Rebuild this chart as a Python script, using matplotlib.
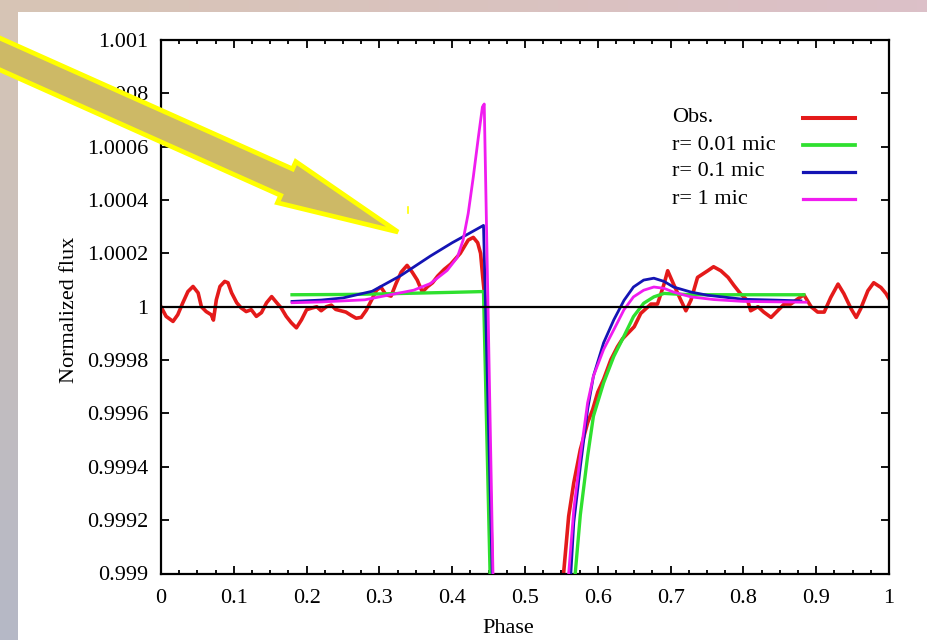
import numpy as np
import matplotlib
matplotlib.use("Agg")
import matplotlib.pyplot as plt
from matplotlib.patches import Polygon, Rectangle
from matplotlib.ticker import MultipleLocator, FixedLocator

# -------------------------------------------------------
# Data (flux deviation in units of 1e-4, flux = 1 + d*1e-4)
# -------------------------------------------------------

obs_phase = [0.000, 0.007, 0.0165, 0.023, 0.030, 0.037, 0.044, 0.051, 0.0555, 0.062,
             0.069, 0.072, 0.076, 0.081, 0.0875, 0.092, 0.097, 0.104, 0.110, 0.117,
             0.124, 0.131, 0.138, 0.145, 0.152, 0.159, 0.165, 0.172, 0.179, 0.186,
             0.193, 0.200, 0.207, 0.214, 0.220, 0.227, 0.234, 0.240, 0.247, 0.254,
             0.261, 0.268, 0.275, 0.282, 0.289, 0.296, 0.302, 0.309, 0.316, 0.323,
             0.330, 0.338, 0.345, 0.352, 0.359, 0.366, 0.373, 0.380, 0.389, 0.398,
             0.411, 0.422, 0.429, 0.435, 0.439, 0.442, 0.446, 0.455, 0.500, 0.553,
             0.560, 0.567, 0.576, 0.586, 0.593, 0.600, 0.608, 0.618, 0.627, 0.634,
             0.650, 0.659, 0.673, 0.682, 0.691, 0.696, 0.704, 0.714, 0.721, 0.728,
             0.737, 0.751, 0.759, 0.769, 0.779, 0.787, 0.796, 0.806, 0.810, 0.820,
             0.828, 0.838, 0.847, 0.856, 0.865, 0.875, 0.883, 0.893, 0.902, 0.911,
             0.920, 0.930, 0.938, 0.948, 0.955, 0.961, 0.971, 0.979, 0.989, 0.996,
             1.000]
obs_dev = [0.00, -0.36, -0.55, -0.30, 0.15, 0.57, 0.76, 0.52, 0.00, -0.18,
           -0.30, -0.50, 0.26, 0.76, 0.95, 0.90, 0.52, 0.15, -0.04, -0.18,
           -0.11, -0.36, -0.22, 0.15, 0.38, 0.15, -0.04, -0.36, -0.60, -0.79,
           -0.49, -0.11, -0.05, 0.00, -0.15, 0.00, 0.06, -0.10, -0.15, -0.20,
           -0.32, -0.43, -0.40, -0.13, 0.24, 0.62, 0.74, 0.45, 0.40, 0.88,
           1.30, 1.55, 1.30, 1.00, 0.55, 0.75, 0.90, 1.15, 1.40, 1.60,
           2.00, 2.50, 2.60, 2.40, 2.00, 1.10, 0.00, -10.0, -20.0, -10.0,
           -7.85, -6.60, -5.35, -4.35, -3.85, -3.20, -2.72, -1.98, -1.50, -1.20,
           -0.75, -0.25, 0.10, 0.10, 0.85, 1.35, 0.85, 0.25, -0.15, 0.25,
           1.10, 1.35, 1.50, 1.35, 1.10, 0.80, 0.49, 0.22, -0.15, 0.00,
           -0.20, -0.40, -0.15, 0.10, 0.10, 0.30, 0.45, 0.00, -0.20, -0.20,
           0.35, 0.85, 0.49, -0.08, -0.40, -0.08, 0.60, 0.90, 0.72, 0.49,
           0.30]

g_phase = [0.180, 0.250, 0.300, 0.350, 0.400, 0.443, 0.452, 0.500, 0.569, 0.576,
           0.586, 0.594, 0.608, 0.622, 0.636, 0.649, 0.663, 0.677, 0.691, 0.704,
           0.728, 0.800, 0.883]
g_dev = [0.45, 0.46, 0.48, 0.51, 0.54, 0.57, -10.0, -20.0, -10.0, -7.8,
         -5.6, -4.1, -2.85, -1.86, -1.1, -0.37, 0.13, 0.37, 0.50, 0.48,
         0.45, 0.45, 0.45]

b_phase = [0.180, 0.220, 0.250, 0.290, 0.330, 0.370, 0.400, 0.420, 0.443, 0.455,
           0.500, 0.563, 0.567, 0.576, 0.586, 0.594, 0.608, 0.622, 0.636, 0.649,
           0.663, 0.677, 0.691, 0.704, 0.728, 0.751, 0.800, 0.842, 0.879]
b_dev = [0.20, 0.25, 0.33, 0.58, 1.18, 1.90, 2.40, 2.70, 3.05, -10.0,
         -20.0, -10.0, -8.1, -6.0, -3.85, -2.6, -1.35, -0.49, 0.24, 0.74,
         1.00, 1.07, 0.95, 0.74, 0.55, 0.43, 0.28, 0.25, 0.22]

m_phase = [0.180, 0.220, 0.280, 0.300, 0.347, 0.370, 0.393, 0.407, 0.415, 0.422,
           0.429, 0.436, 0.4415, 0.444, 0.456, 0.500, 0.560, 0.567, 0.576, 0.586,
           0.594, 0.608, 0.622, 0.636, 0.649, 0.663, 0.677, 0.691, 0.704, 0.728,
           0.759, 0.800, 0.886]
m_dev = [0.15, 0.18, 0.26, 0.37, 0.62, 0.87, 1.36, 1.85, 2.50, 3.50,
         4.87, 6.37, 7.49, 7.60, -10.0, -20.0, -10.0, -7.6, -5.6, -3.6,
         -2.6, -1.6, -0.86, -0.11, 0.37, 0.62, 0.74, 0.69, 0.55, 0.37,
         0.27, 0.20, 0.17]

labels = ["Obs.", "r= 0.01 mic", "r= 0.1 mic", "r= 1 mic"]
colors = ["#e41a1a", "#2fe02f", "#1414b4", "#f01cf0"]
widths = [2.6, 2.4, 2.0, 2.0]

xticks = [0, 0.1, 0.2, 0.3, 0.4, 0.5, 0.6, 0.7, 0.8, 0.9, 1.0]
xticklabels = ["0", "0.1", "0.2", "0.3", "0.4", "0.5", "0.6", "0.7", "0.8", "0.9", "1"]
yticks = [0.999, 0.9992, 0.9994, 0.9996, 0.9998, 1.0, 1.0002, 1.0004, 1.0006, 1.0008, 1.001]
yticklabels = ["0.999", "0.9992", "0.9994", "0.9996", "0.9998", "1",
               "1.0002", "1.0004", "1.0006", "1.0008", "1.001"]

# -------------------------------------------------------
# Figure and slide background
# -------------------------------------------------------

plt.rcParams["font.family"] = ["Liberation Serif", "DejaVu Serif"]
FS = 16

W, H = 927, 640
fig = plt.figure(figsize=(W / 100, H / 100), dpi=100)

bg = fig.add_axes([0, 0, 1, 1], zorder=-10)
bg.axis("off")
tl = np.array([0xd7, 0xc5, 0xb5]) / 255
tr = np.array([0xdc, 0xc0, 0xc8]) / 255
bl = np.array([0xb5, 0xb8, 0xc6]) / 255
br = np.array([0xc2, 0xc2, 0xd0]) / 255
u = np.linspace(0, 1, 93)[None, :, None]
v = np.linspace(0, 1, 64)[:, None, None]
grad = (1 - v) * ((1 - u) * tl + u * tr) + v * ((1 - u) * bl + u * br)
bg.imshow(grad, extent=[0, W, H, 0], aspect="auto")
bg.add_patch(Rectangle((18, 12), W - 18, H - 12, facecolor="white", edgecolor="none"))
bg.set_xlim(0, W)
bg.set_ylim(H, 0)

# -------------------------------------------------------
# Main plot
# -------------------------------------------------------

ax = fig.add_axes([161 / W, 1 - 573.5 / H, 728 / W, 533.5 / H])
ax.patch.set_alpha(0)

def flux(d):
    return 1 + np.asarray(d) * 1e-4

series = [(obs_phase, obs_dev), (g_phase, g_dev), (b_phase, b_dev), (m_phase, m_dev)]
for i, (ph, dv) in enumerate(series):
    ax.plot(ph, flux(dv), color=colors[i], lw=widths[i], zorder=2 + i,
            solid_joinstyle="round")
ax.axhline(1.0, color="black", lw=1.6, zorder=6)

ax.set_xlim(0, 1)
ax.set_ylim(0.999, 1.001)
ax.xaxis.set_major_locator(FixedLocator(xticks))
ax.set_xticklabels(xticklabels)
ax.xaxis.set_minor_locator(MultipleLocator(0.025))
ax.yaxis.set_major_locator(FixedLocator(yticks))
ax.set_yticklabels(yticklabels)

ax.tick_params(which="both", direction="in", top=True, right=True,
               width=1.3, labelsize=FS, colors="black")
ax.tick_params(which="major", length=6)
ax.tick_params(which="minor", length=3)
ax.tick_params(axis="x", pad=11)
ax.tick_params(axis="y", pad=9)
for s in ax.spines.values():
    s.set_linewidth(1.6)

ax.set_xlabel("Phase", fontsize=FS)
ax.set_ylabel("Normalized flux", fontsize=FS)
ax.xaxis.set_label_coords(0.477, -0.085)
ax.yaxis.set_label_coords(-0.113, 0.494)

# key: text left-aligned, sample line to the right (gnuplot style)
key_rows = [118, 145, 172, 199]
for i, lab in enumerate(labels):
    yk = (573.5 - key_rows[i]) / 533.5
    ax.text((672 - 161) / 728, yk, lab, transform=ax.transAxes, ha="left",
            va="center", fontsize=FS)
    ax.plot([(803 - 161) / 728, (855 - 161) / 728], [yk, yk], transform=ax.transAxes,
            color=colors[i], lw=widths[i] + 0.3, clip_on=False)

# -------------------------------------------------------
# Highlight arrow on top of everything
# -------------------------------------------------------

ov = fig.add_axes([0, 0, 1, 1], zorder=10)
ov.axis("off")
ov.patch.set_alpha(0)
ov.set_xlim(0, W)
ov.set_ylim(H, 0)

tip = np.array([398.0, 232.0])
d = np.array([398.0, 178.0])
d /= np.hypot(*d)
n = np.array([-d[1], d[0]])
shaft_hw, head_hw, head_len, tail_len = 14.5, 22.5, 122.0, 520.0
base = tip - head_len * d
tail = tip - tail_len * d
pts = [tail + shaft_hw * n, base + shaft_hw * n, base + head_hw * n, tip,
       base - head_hw * n, base - shaft_hw * n, tail - shaft_hw * n]
ov.add_patch(Polygon(pts, closed=True, facecolor="#cdb966", edgecolor="#ffff00",
                     linewidth=3.4, joinstyle="miter"))
ov.plot([408, 408], [207, 213], color="#ffff00", lw=1.2)

fig.savefig("out.png", dpi=100)
